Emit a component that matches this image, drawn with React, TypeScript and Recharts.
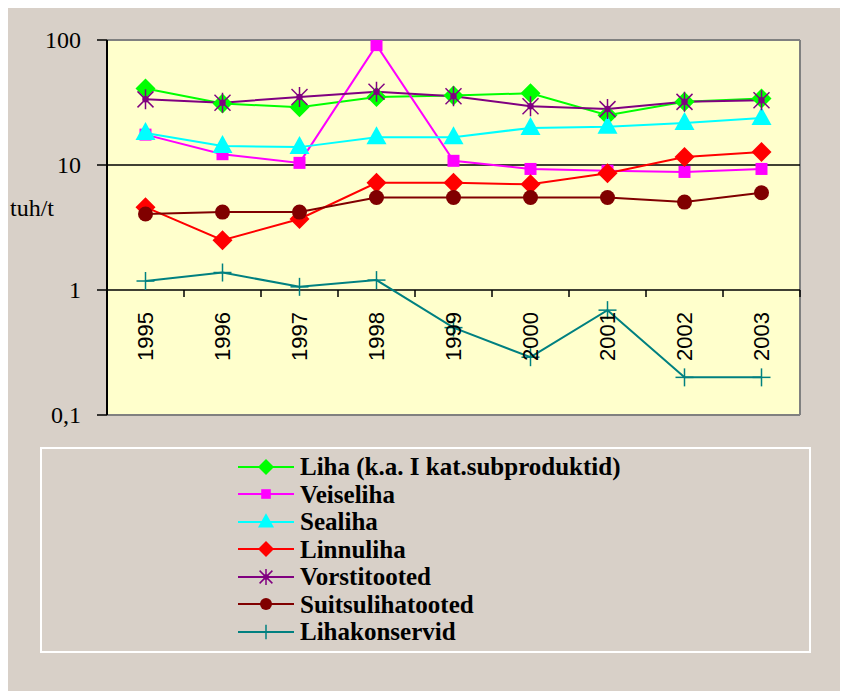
import React from 'react'
import { LineChart, Line, XAxis, YAxis, CartesianGrid, ReferenceLine, Legend } from 'recharts'

const years = ['1995', '1996', '1997', '1998', '1999', '2000', '2001', '2002', '2003']
const liha = [41, 31, 29, 35, 36, 37.5, 25, 32, 34]
const veiseliha = [17.5, 12.2, 10.4, 91, 10.8, 9.3, 9.0, 8.8, 9.3]
const sealiha = [18, 14.2, 13.9, 16.7, 16.7, 19.8, 20.2, 21.7, 23.8]
const linnuliha = [4.6, 2.5, 3.7, 7.2, 7.2, 7.0, 8.6, 11.6, 12.7]
const vorstitooted = [33.5, 31.5, 35, 38.5, 35.5, 29.5, 28, 32, 33]
const suitsulihatooted = [4.05, 4.2, 4.2, 5.5, 5.5, 5.5, 5.5, 5.05, 6.0]
const lihakonservid = [1.18, 1.38, 1.06, 1.2, 0.5, 0.29, 0.69, 0.2, 0.2]
const yTicks = [0.1, 1, 10, 100]

type Shape = 'diamond' | 'square' | 'triangle' | 'star' | 'circle' | 'plus'

const series: { key: string; name: string; color: string; shape: Shape; values: number[] }[] = [
  { key: 'liha', name: 'Liha (k.a. I kat.subproduktid)', color: '#00FF00', shape: 'diamond', values: liha },
  { key: 'veiseliha', name: 'Veiseliha', color: '#FF00FF', shape: 'square', values: veiseliha },
  { key: 'sealiha', name: 'Sealiha', color: '#00FFFF', shape: 'triangle', values: sealiha },
  { key: 'linnuliha', name: 'Linnuliha', color: '#FF0000', shape: 'diamond', values: linnuliha },
  { key: 'vorstitooted', name: 'Vorstitooted', color: '#800080', shape: 'star', values: vorstitooted },
  { key: 'suitsulihatooted', name: 'Suitsulihatooted', color: '#800000', shape: 'circle', values: suitsulihatooted },
  { key: 'lihakonservid', name: 'Lihakonservid', color: '#008080', shape: 'plus', values: lihakonservid },
]

const data = years.map((year, i) => {
  const row: Record<string, string | number> = { year }
  series.forEach(s => { row[s.key] = s.values[i] })
  return row
})

const SERIF = 'Liberation Serif'
const SANS = 'Liberation Sans'

const W = 840
const H = 683
const TOP = 32
const LEFT = 99
const RIGHT = 48
const PLOT_W = W - LEFT - RIGHT
const PLOT_H = 375
const BAND = PLOT_W / years.length
// pixel row of a value on the log axis (0,1 .. 100)
const yPix = (v: number) => TOP + (PLOT_H * (2 - Math.log10(v))) / 3
const CROSS_Y = yPix(1)

function Marker({ shape, color, cx, cy, k = 1 }: { shape: Shape; color: string; cx: number; cy: number; k?: number }) {
  switch (shape) {
    case 'diamond':
      return <polygon points={`${cx},${cy - 10 * k} ${cx + 10 * k},${cy} ${cx},${cy + 10 * k} ${cx - 10 * k},${cy}`} fill={color} />
    case 'square':
      return <rect x={cx - 6 * k} y={cy - 6 * k} width={12 * k} height={12 * k} fill={color} />
    case 'triangle':
      return <polygon points={`${cx},${cy - 11 * k} ${cx + 10 * k},${cy + 7 * k} ${cx - 10 * k},${cy + 7 * k}`} fill={color} />
    case 'star':
      return (
        <g stroke={color} strokeWidth={1.5}>
          <line x1={cx - 8 * k} y1={cy - 8 * k} x2={cx + 8 * k} y2={cy + 8 * k} />
          <line x1={cx + 8 * k} y1={cy - 8 * k} x2={cx - 8 * k} y2={cy + 8 * k} />
          <line x1={cx} y1={cy - 10 * k} x2={cx} y2={cy + 10 * k} />
          <circle cx={cx} cy={cy} r={2.5 * k} fill={color} />
        </g>
      )
    case 'circle':
      return <circle cx={cx} cy={cy} r={7.5 * k} fill={color} />
    case 'plus':
      return (
        <g stroke={color} strokeWidth={1.5}>
          <line x1={cx - 9 * k} y1={cy} x2={cx + 9 * k} y2={cy} />
          <line x1={cx} y1={cy - 9 * k} x2={cx} y2={cy + 9 * k} />
        </g>
      )
  }
  return null
}

const dotFor = (shape: Shape, color: string) => (props: any) => {
  const { cx, cy, index } = props
  if (cx == null || cy == null) return <g key={index} />
  return <Marker key={index} shape={shape} color={color} cx={cx} cy={cy} />
}

const YearTick = (props: any) => {
  const { x, payload } = props
  return (
    <g>
      <line x1={x + BAND / 2} x2={x + BAND / 2} y1={CROSS_Y} y2={CROSS_Y + 7} stroke="#000" strokeWidth={1.5} />
      <text
        transform={`translate(${x + 7},${CROSS_Y + 22}) rotate(-90)`}
        textAnchor="end"
        style={{ fontFamily: SANS, fontSize: 22 }}
        fill="#000"
      >
        {payload.value}
      </text>
    </g>
  )
}

const YValueTick = (props: any) => {
  const { x, y, payload } = props
  return (
    <text x={x} y={y} dy="0.35em" textAnchor="end" style={{ fontFamily: SERIF, fontSize: 24 }} fill="#000">
      {String(payload.value).replace('.', ',')}
    </text>
  )
}

const LegendBox = () => (
  <div style={{ paddingTop: 4, paddingLeft: 196 }}>
    {series.map(s => (
      <div key={s.key} style={{ display: 'flex', alignItems: 'center', height: 27.5 }}>
        <svg width={56} height={24} style={{ marginRight: 6 }}>
          <line x1={0} x2={56} y1={12} y2={12} stroke={s.color} strokeWidth={2} />
          <Marker shape={s.shape} color={s.color} cx={28} cy={12} k={0.8} />
        </svg>
        <span style={{ fontFamily: SERIF, fontWeight: 'bold', fontSize: 25, lineHeight: '27px', color: '#000' }}>
          {s.name}
        </span>
      </div>
    ))}
  </div>
)

export default function App() {
  return (
    <div style={{ width: W, height: H, background: '#D8D0C8', position: 'relative', fontFamily: SERIF }}>
      <LineChart width={W} height={H} data={data} margin={{ top: TOP, right: RIGHT, bottom: H - TOP - PLOT_H - 1, left: 0 }}>
        <CartesianGrid
          fill="#FFFFCC"
          fillOpacity={1}
          horizontal={false}
          stroke="#808080"
          strokeWidth={2}
          verticalCoordinatesGenerator={({ offset }: any) => [offset.left + offset.width]}
        />
        <ReferenceLine y={100} stroke="#808080" strokeWidth={2} />
        <ReferenceLine y={0.1} stroke="#808080" strokeWidth={2} />
        <ReferenceLine y={10} stroke="#000" strokeWidth={1.5} />
        <ReferenceLine y={1} stroke="#000" strokeWidth={1.5} />
        <XAxis
          dataKey="year"
          height={1}
          axisLine={false}
          tickLine={false}
          interval={0}
          padding={{ left: BAND / 2, right: BAND / 2 }}
          tick={YearTick}
        />
        <YAxis
          scale="log"
          type="number"
          domain={[0.1, 100]}
          ticks={yTicks}
          interval={0}
          allowDataOverflow
          width={LEFT}
          axisLine={{ stroke: '#000', strokeWidth: 2 }}
          tickLine={{ stroke: '#000', strokeWidth: 1.5 }}
          tickSize={10}
          tickMargin={16}
          tick={YValueTick}
          label={{ value: 'tuh/t', position: 'insideLeft', offset: 2, dy: -20, style: { fontFamily: SERIF, fontSize: 24 }, fill: '#000' }}
        />
        {series.map(s => (
          <Line
            key={s.key}
            dataKey={s.key}
            name={s.name}
            type="linear"
            stroke={s.color}
            strokeWidth={2}
            dot={dotFor(s.shape, s.color)}
            activeDot={false}
            isAnimationActive={false}
          />
        ))}
        <Legend
          layout="vertical"
          align="center"
          verticalAlign="middle"
          content={LegendBox}
          wrapperStyle={{ left: 32, top: 439, width: 771, height: 206, border: '2px solid #FFFFFF', boxSizing: 'border-box' }}
        />
      </LineChart>
    </div>
  )
}
